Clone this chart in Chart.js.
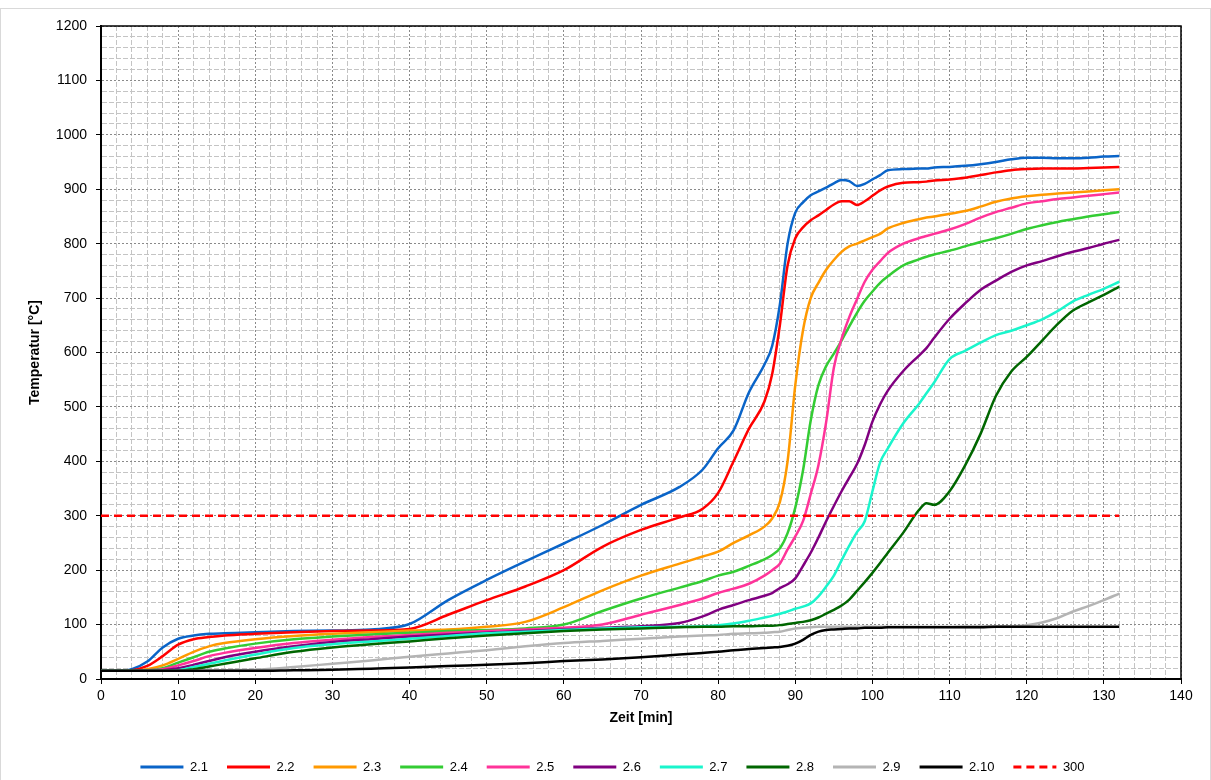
<!DOCTYPE html>
<html>
<head>
<meta charset="utf-8">
<script src="https://cdn.jsdelivr.net/npm/chart.js@4.4.1/dist/chart.umd.min.js"></script>
<style>
  html, body { margin: 0; padding: 0; background: #fff; }
  #wrap { width: 1211px; height: 780px; position: relative; }
</style>
</head>
<body>
<div id="wrap"><canvas id="chart" width="1211" height="780"></canvas></div>
<script>
"use strict";

// Zeit [min] – shared sample times, denser where the curves jump
const TIME = [0, 2, 4, 6, 8, 10, 12, 14, 16,
  20, 25, 30, 35, 40, 45, 50, 55, 60, 65, 70, 75,
  78, 80, 82, 84, 86,
  87, 88, 89, 90, 91, 92, 93, 94, 95, 96, 97, 98, 99, 100, 101, 102,
  104, 106, 107, 108,
  110, 112, 114, 116, 118, 120, 122, 124, 126, 128, 130, 132];

// Temperatur [°C] per Messstelle
const T_2_1 = [15, 15, 18, 32, 58, 74, 80, 83, 84,
  86, 88, 89, 91, 101, 145, 182, 216, 249, 283, 320, 353,
  385, 424, 457, 527, 578,
  612, 688, 800, 857, 876, 889, 896, 903, 911, 917, 915, 906, 910, 918, 926, 935,
  937, 938, 938, 940,
  941, 943, 946, 950, 955, 958, 958, 957, 957, 958, 960, 961];
const T_2_2 = [15, 15, 16, 24, 42, 63, 73, 77, 80,
  83, 86, 88, 89, 92, 118, 145, 170, 200, 243, 274, 297,
  313, 342, 400, 460, 510,
  560, 650, 760, 810, 830, 843, 852, 862, 872, 878, 878, 871, 878, 888, 898, 905,
  912, 913, 914, 916,
  918, 921, 926, 931, 935, 937, 938, 938, 938, 939, 940, 941];
const T_2_3 = [15, 15, 15, 18, 25, 37, 50, 60, 66,
  73, 79, 83, 86, 89, 91, 96, 105, 132, 163, 190, 212,
  225, 234, 250, 264, 280,
  295, 325, 400, 540, 641, 700, 728, 752, 770, 785, 795, 800, 806, 812, 818, 828,
  838, 845, 848, 850,
  855, 860, 868, 877, 883, 887, 890, 892, 894, 896, 898, 900];
const T_2_4 = [15, 15, 15, 16, 20, 30, 40, 50, 56,
  65, 73, 78, 82, 85, 88, 90, 93, 100, 125, 148, 168,
  180, 190, 197, 208, 220,
  228, 240, 268, 315, 383, 475, 540, 575, 598, 622, 648, 673, 695, 712, 728, 740,
  760, 771, 776, 780,
  787, 795, 803, 810, 818, 827, 834, 840, 845, 850, 854, 858];
const T_2_5 = [15, 15, 15, 16, 18, 25, 33, 42, 48,
  57, 66, 72, 77, 81, 85, 88, 91, 94, 100, 118, 136,
  148, 158, 166, 175, 190,
  200, 212, 238, 262, 290, 340, 393, 472, 572, 625, 665, 698, 730, 752, 768, 783,
  800, 810, 814, 818,
  826, 836, 848, 858, 866, 874, 878, 882, 885, 888, 891, 894];
const T_2_6 = [15, 15, 15, 15, 16, 20, 26, 33, 40,
  50, 60, 68, 73, 78, 82, 85, 88, 91, 94, 97, 103,
  115, 127, 136, 145, 153,
  158, 167, 174, 185, 208, 232, 260, 290, 318, 345, 370, 395, 430, 473, 505, 530,
  566, 594, 608, 627,
  662, 690, 715, 732, 748, 760, 768, 777, 785, 792, 800, 807];
const T_2_7 = [15, 15, 15, 15, 15, 16, 22, 28, 34,
  45, 57, 64, 69, 74, 79, 84, 87, 90, 93, 95, 96,
  97, 99, 102, 107, 113,
  116, 120, 124, 129, 133, 139, 152, 170, 190, 218, 245, 270, 290, 345, 398, 424,
  470, 505, 525, 545,
  588, 603, 618, 632, 640, 650, 661, 676, 694, 706, 717, 730];
const T_2_8 = [15, 15, 15, 15, 15, 15, 18, 23, 28,
  38, 50, 58, 64, 69, 75, 80, 84, 88, 91, 93, 95,
  96, 96, 97, 97, 98,
  98, 99, 101, 103, 105, 108, 113, 120, 127, 135, 146, 162, 178, 195, 213, 232,
  269, 310, 323, 320,
  345, 392, 450, 520, 565, 592, 622, 652, 677, 692, 706, 721];
const T_2_9 = [15, 15, 15, 15, 15, 15, 15, 15, 16,
  17, 22, 28, 34, 41, 47, 53, 60, 66, 70, 74, 78,
  80, 81, 83, 84, 85,
  86, 87, 90, 93, 94, 95, 96, 96, 96, 96, 96, 96, 96, 96, 96, 96,
  96, 96, 96, 96,
  96, 97, 97, 97, 97, 99, 104, 112, 124, 134, 145, 157];
const T_2_10 = [15, 15, 15, 15, 15, 15, 15, 15, 15,
  15, 16, 17, 19, 21, 24, 26, 29, 33, 36, 40, 45,
  48, 50, 53, 55, 57,
  58, 59, 61, 65, 72, 81, 87, 90, 91, 92, 93, 93, 94, 94, 94, 95,
  95, 95, 95, 95,
  95, 95, 95, 96, 96, 96, 96, 96, 96, 96, 96, 96];

// 300 °C Grenzlinie
const LIMIT_TIME = [0, 132];
const LIMIT_TEMP = [300, 300];

const SERIES = [
  { label: "2.1", values: T_2_1, color: "#0a64c8" },
  { label: "2.2", values: T_2_2, color: "#ff0000" },
  { label: "2.3", values: T_2_3, color: "#ff9900" },
  { label: "2.4", values: T_2_4, color: "#33cc33" },
  { label: "2.5", values: T_2_5, color: "#ff3399" },
  { label: "2.6", values: T_2_6, color: "#800080" },
  { label: "2.7", values: T_2_7, color: "#1af5cc" },
  { label: "2.8", values: T_2_8, color: "#006600" },
  { label: "2.9", values: T_2_9, color: "#b4b4b4" },
  { label: "2.10", values: T_2_10, color: "#000000" },
];

const FONT = "'Liberation Sans', Arial, sans-serif";
const isMajor = (v, step) => Math.abs(v % step) < 1e-6;

const datasets = SERIES.map((s, idx) => ({
  label: s.label,
  data: TIME.map((t, i) => ({ x: t, y: s.values[i] })),
  borderColor: s.color,
  backgroundColor: s.color,
  borderWidth: 2.5,
  pointRadius: 0,
  cubicInterpolationMode: "monotone",
  order: -idx,
}));
datasets.push({
  label: "300",
  data: LIMIT_TIME.map((t, i) => ({ x: t, y: LIMIT_TEMP[i] })),
  borderColor: "#ff0000",
  backgroundColor: "#ff0000",
  borderWidth: 2.5,
  borderDash: [8, 5],
  pointRadius: 0,
  order: -20,
});

function gridOpts(step) {
  return {
    color: (ctx) => ctx.tick && isMajor(ctx.tick.value, step) ? "#8a8a8a" : "#c4c4c4",
    lineWidth: 1,
    tickLength: 5,
    tickColor: (ctx) => ctx.tick && isMajor(ctx.tick.value, step) ? "#000" : "rgba(0,0,0,0)",
    tickWidth: 1,
  };
}
function borderOpts(step) {
  return {
    color: "#000",
    width: 2,
    dash: (ctx) => ctx.tick ? (isMajor(ctx.tick.value, step) ? [2, 2] : [5, 2]) : [],
  };
}

// legend samples: keep each dataset's own dash (the default uses the point style)
const baseLabels = Chart.defaults.plugins.legend.labels.generateLabels;
function legendLabels(chart) {
  return baseLabels(chart).map((item) => {
    const ds = chart.data.datasets[item.datasetIndex];
    item.strokeStyle = ds.borderColor;
    item.lineDash = ds.borderDash || [];
    item.lineWidth = 3;
    return item;
  });
}

const framePlugin = {
  id: "frame",
  afterLayout(chart) {
    // the legend sits a bit right of the canvas centre in the original
    chart.legend.left += 22;
    chart.legend.right += 22;
  },
  beforeDraw(chart) {
    const ctx = chart.ctx;
    ctx.save();
    ctx.strokeStyle = "#d9d9d9";
    ctx.lineWidth = 1;
    ctx.strokeRect(0.5, 8.5, chart.width - 1, chart.height);
    ctx.restore();
  },
  beforeDatasetsDraw(chart) {
    const { ctx, chartArea: a } = chart;
    ctx.save();
    ctx.strokeStyle = "#000";
    ctx.lineWidth = 1.5;
    ctx.beginPath();
    ctx.moveTo(a.left, a.top);
    ctx.lineTo(a.right, a.top);
    ctx.lineTo(a.right, a.bottom);
    ctx.stroke();
    ctx.restore();
  },
};

new Chart(document.getElementById("chart"), {
  type: "line",
  data: { datasets },
  plugins: [framePlugin],
  options: {
    responsive: false,
    animation: false,
    layout: { padding: { left: 0, right: 30, top: 26, bottom: 0 } },
    scales: {
      x: {
        type: "linear",
        min: 0,
        max: 140,
        ticks: {
          stepSize: 2,
          autoSkip: false,
          maxRotation: 0,
          minRotation: 0,
          padding: 4,
          color: "#000",
          font: { family: FONT, size: 14 },
          callback: (v) => isMajor(v, 10) ? v : "",
        },
        grid: gridOpts(10),
        border: borderOpts(10),
        title: {
          display: true,
          text: "Zeit [min]",
          color: "#000",
          font: { family: FONT, size: 14, weight: "bold" },
          padding: { top: 0, bottom: 15 },
        },
        afterFit: (scale) => { scale.height = 62.5; },
      },
      y: {
        min: 0,
        max: 1200,
        ticks: {
          stepSize: 20,
          autoSkip: false,
          padding: 9,
          color: "#000",
          font: { family: FONT, size: 14 },
          callback: (v) => isMajor(v, 100) ? v : "",
        },
        grid: gridOpts(100),
        border: borderOpts(100),
        title: {
          display: true,
          text: "Temperatur [°C]",
          color: "#000",
          font: { family: FONT, size: 14, weight: "bold" },
          padding: { top: 27, bottom: 0 },
        },
        afterFit: (scale) => { scale.width = 101; },
      },
    },
    plugins: {
      tooltip: { enabled: false },
      legend: {
        position: "bottom",
        maxHeight: 38.5,
        labels: {
          usePointStyle: true,
          pointStyle: "line",
          pointStyleWidth: 43,
          padding: 19,
          color: "#000",
          font: { family: FONT, size: 13 },
          generateLabels: legendLabels,
          sort: (a, b) => a.datasetIndex - b.datasetIndex,
        },
      },
    },
  },
});
</script>
</body>
</html>
